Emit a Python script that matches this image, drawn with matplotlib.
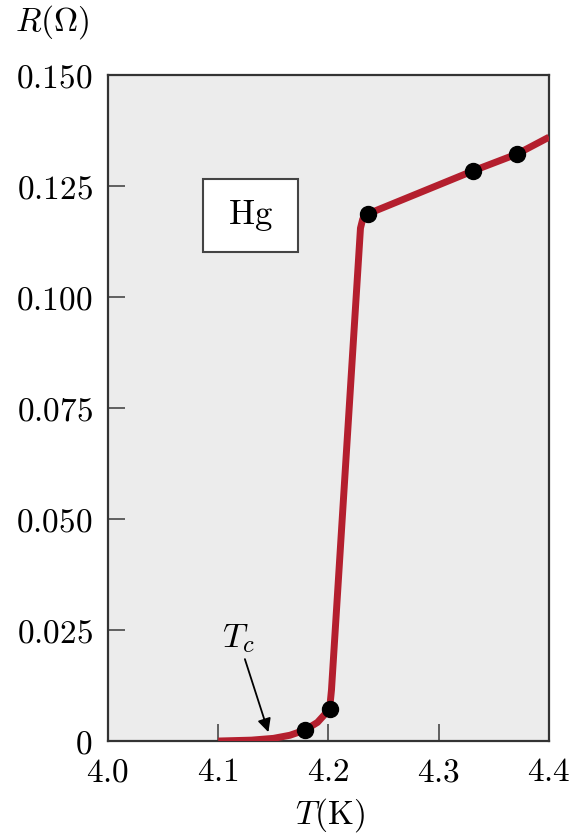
import matplotlib
matplotlib.use("Agg")
import matplotlib.pyplot as plt
from matplotlib.patches import Rectangle
from matplotlib.ticker import FuncFormatter

plt.rcParams['mathtext.fontset'] = 'cm'
plt.rcParams['font.family'] = 'serif'

# measured points for mercury
T_pts = [4.179, 4.201, 4.2355, 4.331, 4.371]
R_pts = [0.0025, 0.0072, 0.1187, 0.1284, 0.1322]

# smooth curve through the transition
T_curve = [4.100, 4.130, 4.150, 4.165, 4.179, 4.190, 4.201, 4.2027,
           4.229, 4.231, 4.2335, 4.2355, 4.331, 4.371, 4.400]
R_curve = [0.0000, 0.0002, 0.0006, 0.0013, 0.0025, 0.0042, 0.0072, 0.0115,
           0.1155, 0.1175, 0.1184, 0.1187, 0.1284, 0.1322, 0.1360]

x_ticks = [4.0, 4.1, 4.2, 4.3, 4.4]
y_ticks = [0, 0.025, 0.050, 0.075, 0.100, 0.125, 0.150]

fig = plt.figure(figsize=(5.75, 8.36), dpi=100)
ax = fig.add_axes([0.1878, 0.1136, 0.767, 0.7967])
ax.set_facecolor('#ececec')

ax.plot(T_curve, R_curve, color='#b41f2e', lw=5, solid_capstyle='butt', zorder=3)
ax.plot(T_pts, R_pts, 'o', color='black', ms=11.5, zorder=4)

ax.set_xlim(4.0, 4.4)
ax.set_ylim(0, 0.150)
ax.set_xticks(x_ticks)
ax.set_yticks(y_ticks)
ax.xaxis.set_major_formatter(FuncFormatter(lambda v, p: f'${v:.1f}$'))
ax.yaxis.set_major_formatter(FuncFormatter(lambda v, p: '$0$' if v == 0 else f'${v:.3f}$'))
ax.tick_params(direction='in', length=12, width=1.3, color='#555555',
               labelsize=24, pad=11)

for s in ax.spines.values():
    s.set_color('#333333')
    s.set_linewidth(1.6)

# Hg label box
ax.add_patch(Rectangle((4.0864, 0.1101), 0.0856, 0.0165, facecolor='white',
                       edgecolor='#444444', lw=1.5, zorder=2))
ax.text(4.129, 0.1183, r'$\mathrm{Hg}$', fontsize=25, ha='center', va='center', zorder=3)

# critical temperature marker
ax.annotate(r'$T_c$', xy=(4.1455, 0.0020), xytext=(4.118, 0.0232),
            fontsize=25, ha='center', va='center',
            arrowprops=dict(arrowstyle='-|>', color='black', lw=1.3,
                            shrinkA=1, shrinkB=0, mutation_scale=20))

fig.text(15 / 575, 1 - 22 / 836, r'$R(\Omega)$', fontsize=24, ha='left', va='center')
fig.text(330 / 575, 1 - 815 / 836, r'$T(\mathrm{K})$', fontsize=24, ha='center', va='center')

fig.savefig('out.png', dpi=100)
